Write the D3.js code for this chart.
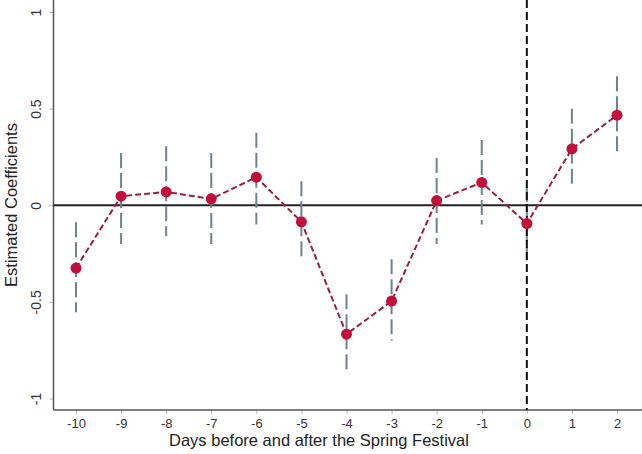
<!DOCTYPE html>
<html><head><meta charset="utf-8">
<script src="https://cdn.jsdelivr.net/npm/d3@7"></script>
<style>body{margin:0;background:#fff}svg{display:block}text{font-family:"Liberation Sans",Arial,sans-serif}</style>
</head><body><svg id="c" width="642" height="454"></svg>
<script>
const days = [-10,-9,-8,-7,-6,-5,-4,-3,-2,-1,0,1,2];
const coef = [-0.325,0.047,0.069,0.033,0.145,-0.086,-0.667,-0.496,0.024,0.118,-0.095,0.292,0.466];
const ciLow = [-0.554,-0.20,-0.16,-0.20,-0.10,-0.29,-0.87,-0.70,-0.20,-0.10,-0.285,0.09,0.26];
const ciHigh = [-0.088,0.27,0.305,0.27,0.375,0.124,-0.46,-0.28,0.245,0.337,0.095,0.50,0.668];
const yTicks = [-1,-0.5,0,0.5,1];
const yTickLabels = ["-1","-0.5","0","0.5","1"];
const xTicks = days;
const xTickLabels = ["-10","-9","-8","-7","-6","-5","-4","-3","-2","-1","0","1","2"];

const svg = d3.select("#c");
const x = d3.scaleLinear().domain([-10,2]).range([76,617]);
const y = d3.scaleLinear().domain([-1,1]).range([398.5,12]);
const axisColor = "#555";

// axes
const xAxis = svg.append("g").attr("transform","translate(0,410)")
  .call(d3.axisBottom(x).tickValues(xTicks).tickSize(4).tickPadding(5).tickFormat((d,i)=>xTickLabels[i]));
xAxis.select(".domain").remove();
xAxis.selectAll(".tick line").attr("stroke","#bbb");
xAxis.selectAll(".tick text").attr("font-size",13).attr("fill","#333").attr("font-family","Liberation Sans, Arial, sans-serif");
svg.append("line").attr("x1",53.5).attr("x2",642).attr("y1",410).attr("y2",410).attr("stroke",axisColor).attr("stroke-width",1.5);

const yAxis = svg.append("g").attr("transform","translate(53.5,0)")
  .call(d3.axisLeft(y).tickValues(yTicks).tickSize(4).tickFormat((d,i)=>yTickLabels[i]));
yAxis.select(".domain").remove();
yAxis.selectAll(".tick line").attr("stroke","#bbb");
yAxis.selectAll(".tick text").attr("font-size",14).attr("fill","#333").attr("font-family","Liberation Sans, Arial, sans-serif")
  .attr("text-anchor","middle").attr("x",0).attr("dy",0)
  .attr("transform","translate(-13,0) rotate(-90)");
svg.append("line").attr("x1",53.5).attr("x2",53.5).attr("y1",0).attr("y2",410).attr("stroke",axisColor).attr("stroke-width",1.5);

// titles
svg.append("text").attr("x",319).attr("y",446).attr("text-anchor","middle")
  .attr("font-size",16.5).attr("fill","#222").text("Days before and after the Spring Festival");
svg.append("text").attr("transform","translate(17,205) rotate(-90)").attr("text-anchor","middle")
  .attr("font-size",16.5).attr("fill","#222").text("Estimated Coefficients");

// zero line
svg.append("line").attr("x1",53.5).attr("x2",642).attr("y1",y(0)).attr("y2",y(0))
  .attr("stroke","#222").attr("stroke-width",2);

// CI bars
svg.append("g").selectAll("line").data(days).join("line")
  .attr("x1",d=>x(d)).attr("x2",d=>x(d))
  .attr("y1",(d,i)=>y(ciHigh[i])).attr("y2",(d,i)=>y(ciLow[i]))
  .attr("stroke","#6d8391").attr("stroke-width",2).attr("stroke-dasharray","15,5");

// vertical dashed line
svg.append("line").attr("x1",x(0)).attr("x2",x(0)).attr("y1",0).attr("y2",410)
  .attr("stroke","#111").attr("stroke-width",2).attr("stroke-dasharray","8,4");

// connecting line
const line = d3.line().x((d,i)=>x(days[i])).y(d=>y(d));
svg.append("path").datum(coef).attr("d",line).attr("fill","none")
  .attr("stroke","#9e1f3c").attr("stroke-width",2).attr("stroke-dasharray","6,3");

// points
svg.append("g").selectAll("circle").data(coef).join("circle")
  .attr("cx",(d,i)=>x(days[i])).attr("cy",d=>y(d)).attr("r",5.5).attr("fill","#c3103a");
</script></body></html>
